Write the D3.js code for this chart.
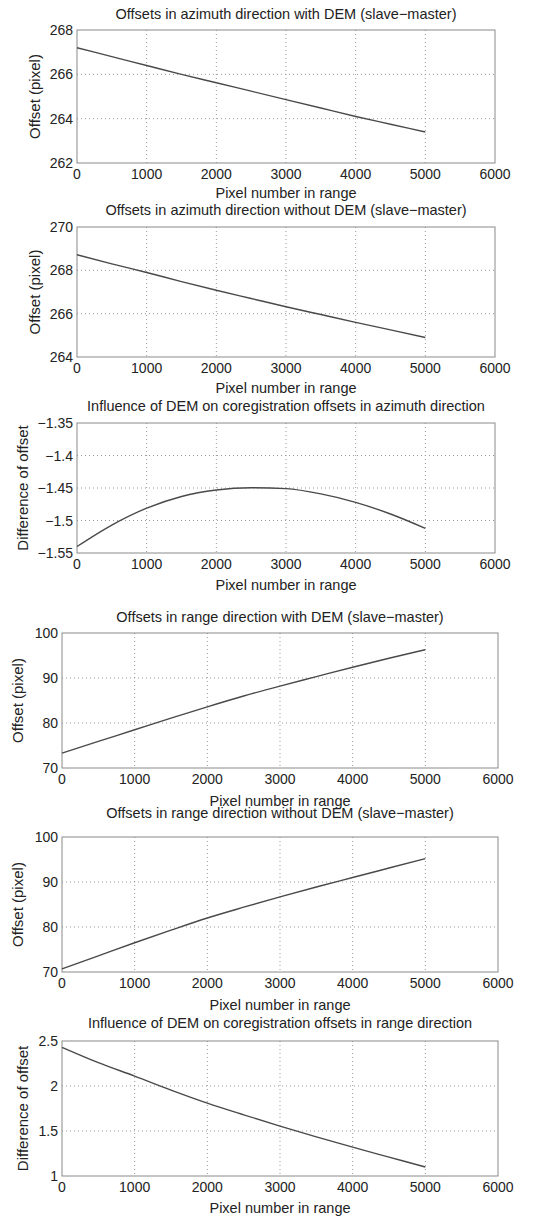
<!DOCTYPE html>
<html>
<head>
<meta charset="utf-8">
<script src="https://cdn.jsdelivr.net/npm/d3@7"></script>
<style>
  body { margin: 0; background: #fff; }
  svg text { font-family: "Liberation Sans", Arial, sans-serif; fill: #222; }
</style>
</head>
<body>
<div id="chart"></div>
<script>
// pixel number in range (common x for every panel)
var pixels = [0, 500, 1000, 1500, 2000, 2500, 3000, 3500, 4000, 4500, 5000];

var azWithDem    = [267.2, 266.8, 266.4, 266.0, 265.62, 265.24, 264.86, 264.48, 264.1, 263.75, 263.4];
var azWithoutDem = [268.72, 268.3, 267.9, 267.48, 267.08, 266.7, 266.32, 265.96, 265.6, 265.25, 264.9];
var azDiff       = [-1.540, -1.507, -1.481, -1.463, -1.453, -1.4495, -1.451, -1.459, -1.472, -1.490, -1.512];
var rgWithDem    = [73.3, 75.9, 78.5, 81.1, 83.6, 86.0, 88.2, 90.3, 92.4, 94.4, 96.3];
var rgWithoutDem = [70.7, 73.6, 76.5, 79.3, 82.0, 84.4, 86.7, 88.9, 91.0, 93.1, 95.2];
var rgDiff       = [2.43, 2.26, 2.11, 1.955, 1.81, 1.68, 1.555, 1.435, 1.32, 1.21, 1.10];

var xTicks = [0, 1000, 2000, 3000, 4000, 5000, 6000];

var titles = [
    "Offsets in azimuth direction with DEM (slave\u2212master)",
    "Offsets in azimuth direction without DEM (slave\u2212master)",
    "Influence of DEM on coregistration offsets in azimuth direction",
    "Offsets in range direction with DEM (slave\u2212master)",
    "Offsets in range direction without DEM (slave\u2212master)",
    "Influence of DEM on coregistration offsets in range direction"
];
var yLabels = ["Offset (pixel)", "Offset (pixel)", "Difference of offset",
               "Offset (pixel)", "Offset (pixel)", "Difference of offset"];
var yTicks = [
    [262, 264, 266, 268],
    [264, 266, 268, 270],
    [-1.55, -1.5, -1.45, -1.4, -1.35],
    [70, 80, 90, 100],
    [70, 80, 90, 100],
    [1, 1.5, 2, 2.5]
];
var series = [azWithDem, azWithoutDem, azDiff, rgWithDem, rgWithoutDem, rgDiff];

// plot box of each panel: left, right, top, bottom, title y, xlabel y, ylabel x
var boxes = [
    [77, 495, 30, 163, 14, 193, 35],
    [77, 495, 227, 357, 210, 388, 35],
    [77, 495, 423, 553, 406, 585, 23],
    [62, 498, 633, 768, 617, 801, 18],
    [62, 498, 837, 972, 813, 1005, 18],
    [62, 498, 1041, 1176, 1023, 1208, 23]
];

var W = 547, H = 1218;
var svg = d3.select("#chart").append("svg")
    .attr("width", W)
    .attr("height", H);

function fmt(v) {
    return String(+v.toFixed(2)).replace("-", "\u2212");
}

for (var i = 0; i < 6; i++) drawPanel(i);

function drawPanel(i) {
    var b = boxes[i];
    var x0 = b[0], x1 = b[1], y0 = b[2], y1 = b[3];
    var ys = yTicks[i];

    var x = d3.scaleLinear().domain([0, 6000]).range([x0, x1]);
    var y = d3.scaleLinear().domain([ys[0], ys[ys.length - 1]]).range([y1, y0]);

    var g = svg.append("g");

    // dotted grid
    g.selectAll(".vg").data(xTicks.slice(1, -1)).enter().append("line")
        .attr("x1", d => x(d)).attr("x2", d => x(d))
        .attr("y1", y0).attr("y2", y1)
        .attr("stroke", "#999").attr("stroke-width", 1)
        .attr("stroke-dasharray", "1,3");
    g.selectAll(".hg").data(ys.slice(1, -1)).enter().append("line")
        .attr("x1", x0).attr("x2", x1)
        .attr("y1", d => y(d)).attr("y2", d => y(d))
        .attr("stroke", "#999").attr("stroke-width", 1)
        .attr("stroke-dasharray", "1,3");

    // frame
    g.append("rect")
        .attr("x", x0).attr("y", y0)
        .attr("width", x1 - x0).attr("height", y1 - y0)
        .attr("fill", "none").attr("stroke", "#8a8a8a").attr("stroke-width", 1);

    // data line
    var line = d3.line()
        .x((d, k) => x(pixels[k]))
        .y(d => y(d))
        .curve(d3.curveMonotoneX);
    g.append("path")
        .datum(series[i])
        .attr("d", line)
        .attr("fill", "none")
        .attr("stroke", "#4a4a4a")
        .attr("stroke-width", 1.4);

    // x tick labels
    g.selectAll(".xt").data(xTicks).enter().append("text")
        .attr("x", d => x(d))
        .attr("y", y1 + 16)
        .attr("text-anchor", "middle")
        .style("font-size", "14px")
        .text(d => d);

    // y tick labels
    g.selectAll(".yt").data(ys).enter().append("text")
        .attr("x", x0 - 4)
        .attr("y", d => y(d) + 5)
        .attr("text-anchor", "end")
        .style("font-size", "14px")
        .text(fmt);

    // title
    g.append("text")
        .attr("x", (x0 + x1) / 2)
        .attr("y", b[4] + 5)
        .attr("text-anchor", "middle")
        .style("font-size", "14.5px")
        .text(titles[i]);

    // x label
    g.append("text")
        .attr("x", (x0 + x1) / 2)
        .attr("y", b[5] + 5)
        .attr("text-anchor", "middle")
        .style("font-size", "14.5px")
        .text("Pixel number in range");

    // y label
    g.append("text")
        .attr("transform", "translate(" + (b[6] + 5) + "," + ((y0 + y1) / 2) + ") rotate(-90)")
        .attr("text-anchor", "middle")
        .style("font-size", "15px")
        .text(yLabels[i]);
}
</script>
</body>
</html>
